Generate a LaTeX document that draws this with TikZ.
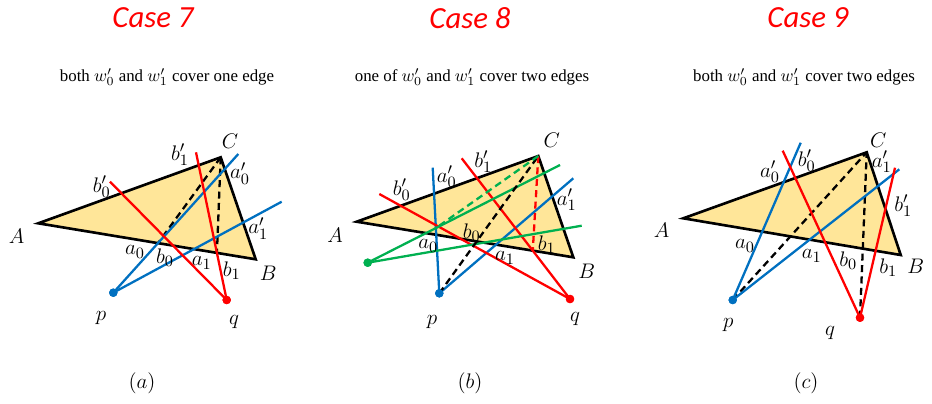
\documentclass[tikz,border=0pt]{standalone}
\usepackage{fontspec}
\setmainfont{Liberation Serif}
\newfontfamily\casefont{Carlito}
\usepackage{tikz}
\usetikzlibrary{calc}
\definecolor{trifill}{RGB}{255,230,153}
\definecolor{myblue}{RGB}{0,112,192}
\definecolor{myred}{RGB}{255,0,0}
\definecolor{mygreen}{RGB}{0,176,80}
\tikzset{
  tri/.style={draw=black, fill=trifill, line width=1.5pt, line join=miter},
  bluel/.style={line width=1.3pt, color=myblue},
  redl/.style={line width=1.3pt, color=myred},
  greenl/.style={line width=1.3pt, color=mygreen},
  dashl/.style={line width=1.3pt, dash pattern=on 4pt off 2.5pt},
  lbl/.style={font=\fontsize{13}{15}\selectfont, inner sep=0pt},
  ttl/.style={font=\fontsize{17.5}{20}\selectfont\casefont\itshape, text=myred, inner sep=0pt},
  sub/.style={font=\fontsize{9.6}{11}\selectfont, inner sep=0pt}
}
\begin{document}
\begin{tikzpicture}[x=0.02cm, y=-0.02cm,
  pdot/.style={circle, fill=myblue, minimum size=4.8pt, inner sep=0pt},
  qdot/.style={circle, fill=myred, minimum size=4.8pt, inner sep=0pt},
  gdot/.style={circle, fill=mygreen, minimum size=4.8pt, inner sep=0pt}
]
\useasboundingbox (0,0) rectangle (932,403);

%--- CASE 7 (left) ---
\node[ttl] (t1) at (153,18) {Case 7};
\node[sub] (s1) at (167,77) {both $w_0'$ and $w_1'$ cover one edge};
\coordinate (A1) at (38.3,223.3);
\coordinate (B1) at (255.7,259.3);
\coordinate (C1) at (220.7,157.3);
\filldraw[tri] (A1) -- (B1) -- (C1) -- cycle;
\node[pdot] (p1) at (113.3,292.7) {};
\node[qdot] (q1) at (226.7,300) {};
\coordinate (u1) at (238.3,154);
\coordinate (u2) at (281.7,201.7);
\coordinate (r1) at (110,181.7);
\coordinate (r2) at (196,152.3);
% hits on AB
\coordinate (h1) at (intersection of A1--B1 and p1.center--u1);
\coordinate (h2) at (intersection of A1--B1 and q1.center--r2);
\draw[dashl] (C1) -- (h1);
\draw[dashl] (C1) -- (h2);
\draw[bluel] (p1.center) -- (u1);
\draw[bluel] (p1.center) -- (u2);
\draw[redl] (q1.center) -- (r1);
\draw[redl] (q1.center) -- (r2);
\node[pdot] at (p1) {};
\node[qdot] at (q1) {};
\node[lbl] (lA1) at (16.7,236.7) {$A$};
\node[lbl] (lB1) at (268.3,273.3) {$B$};
\node[lbl] (lC1) at (230,141.7) {$C$};
\node[lbl] (lb01) at (101.7,186.7) {$b_0'$};
\node[lbl] (lb11) at (180,155) {$b_1'$};
\node[lbl] (la01) at (240,173.3) {$a_0'$};
\node[lbl] (la11) at (258.3,228.3) {$a_1'$};
\node[lbl] (lx01) at (135,252) {$a_0$};
\node[lbl] (ly01) at (165,258) {$b_0$};
\node[lbl] (lx11) at (201.7,263) {$a_1$};
\node[lbl] (ly11) at (231.7,271) {$b_1$};
\node[lbl] (lp1) at (101,318) {$p$};
\node[lbl] (lq1) at (234,322) {$q$};
\node[lbl] (cap1) at (142,383) {$(a)$};

%--- CASE 8 (centre) ---
\node[ttl] (t2) at (470,18) {Case 8};
\node[sub] (s2) at (472,77) {one of $w_0'$ and $w_1'$ cover two edges};
\coordinate (A2) at (356.7,221.7);
\coordinate (B2) at (573.3,257.3);
\coordinate (C2) at (538.3,156);
\filldraw[tri] (A2) -- (B2) -- (C2) -- cycle;
\node[pdot] (p2) at (439.3,293.3) {};
\node[qdot] (q2) at (570,299) {};
\node[gdot] (g2) at (367.7,262.7) {};
\coordinate (v1) at (432.7,167.7);
\coordinate (v2) at (573.3,178.3);
\coordinate (s1e) at (379.3,194);
\coordinate (s2e) at (461.7,158.3);
\coordinate (w1) at (560,165);
\coordinate (w2) at (581.7,225.7);
\coordinate (k1) at (intersection of A2--B2 and q2.center--s2e);
\coordinate (k2) at (intersection of g2.center--w1 and p2.center--v1);
\draw[bluel] (p2.center) -- (v1);
\draw[bluel] (p2.center) -- (v2);
\draw[redl] (q2.center) -- (s1e);
\draw[redl] (q2.center) -- (s2e);
\draw[greenl] (g2.center) -- (w1);
\draw[greenl] (g2.center) -- (w2);
\draw[dashl] (p2.center) -- (C2);
\draw[dashl, color=myred] (C2) -- (k1);
\draw[dashl, color=mygreen] (C2) -- (k2);
\node[pdot] at (p2) {};
\node[qdot] at (q2) {};
\node[gdot] at (g2) {};
\node[lbl] (lA2) at (335,235) {$A$};
\node[lbl] (lB2) at (586.7,271.7) {$B$};
\node[lbl] (lC2) at (551.7,140) {$C$};
\node[lbl] (lb02) at (401.7,190) {$b_0'$};
\node[lbl] (la02) at (446.7,176.7) {$a_0'$};
\node[lbl] (lb12) at (483.3,161.7) {$b_1'$};
\node[lbl] (la12) at (566.7,200) {$a_1'$};
\node[lbl] (lx02) at (428.3,246) {$a_0$};
\node[lbl] (ly02) at (471.7,233) {$b_0$};
\node[lbl] (lx12) at (505,258) {$a_1$};
\node[lbl] (ly12) at (546.7,245) {$b_1$};
\node[lbl] (lp2) at (432,322) {$p$};
\node[lbl] (lq2) at (575,319) {$q$};
\node[lbl] (cap2) at (470,383) {$(b)$};

%--- CASE 9 (right) ---
\node[ttl] (t3) at (808,18) {Case 9};
\node[sub] (s3) at (804,77) {both $w_0'$ and $w_1'$ cover two edges};
\coordinate (A3) at (683.3,218.3);
\coordinate (B3) at (900.7,255);
\coordinate (C3) at (866.7,152.3);
\filldraw[tri] (A3) -- (B3) -- (C3) -- cycle;
\node[pdot] (p3) at (732.7,300) {};
\node[qdot] (q3) at (860,317.7) {};
\coordinate (z1) at (800.7,142.7);
\coordinate (z2) at (899.3,169.3);
\coordinate (m1) at (782.7,150.7);
\coordinate (m2) at (895,167.7);
\draw[dashl] (p3.center) -- (C3);
\draw[dashl] (q3.center) -- (C3);
\draw[bluel] (p3.center) -- (z1);
\draw[bluel] (p3.center) -- (z2);
\draw[redl] (q3.center) -- (m1);
\draw[redl] (q3.center) -- (m2);
\node[pdot] at (p3) {};
\node[qdot] at (q3) {};
\node[lbl] (lA3) at (661.7,230) {$A$};
\node[lbl] (lB3) at (915.7,266.7) {$B$};
\node[lbl] (lC3) at (878.3,140) {$C$};
\node[lbl] (la03) at (770,172) {$a_0'$};
\node[lbl] (lb03) at (806.7,161) {$b_0'$};
\node[lbl] (la13) at (881.7,162) {$a_1'$};
\node[lbl] (lb13) at (903.3,206) {$b_1'$};
\node[lbl] (lx03) at (745,246) {$a_0$};
\node[lbl] (lx13) at (811.7,256) {$a_1$};
\node[lbl] (ly03) at (848.3,261) {$b_0$};
\node[lbl] (ly13) at (888.3,268) {$b_1$};
\node[lbl] (lp3) at (728.3,325) {$p$};
\node[lbl] (lq3) at (830,333) {$q$};
\node[lbl] (cap3) at (806,383) {$(c)$};
\end{tikzpicture}
\end{document}
